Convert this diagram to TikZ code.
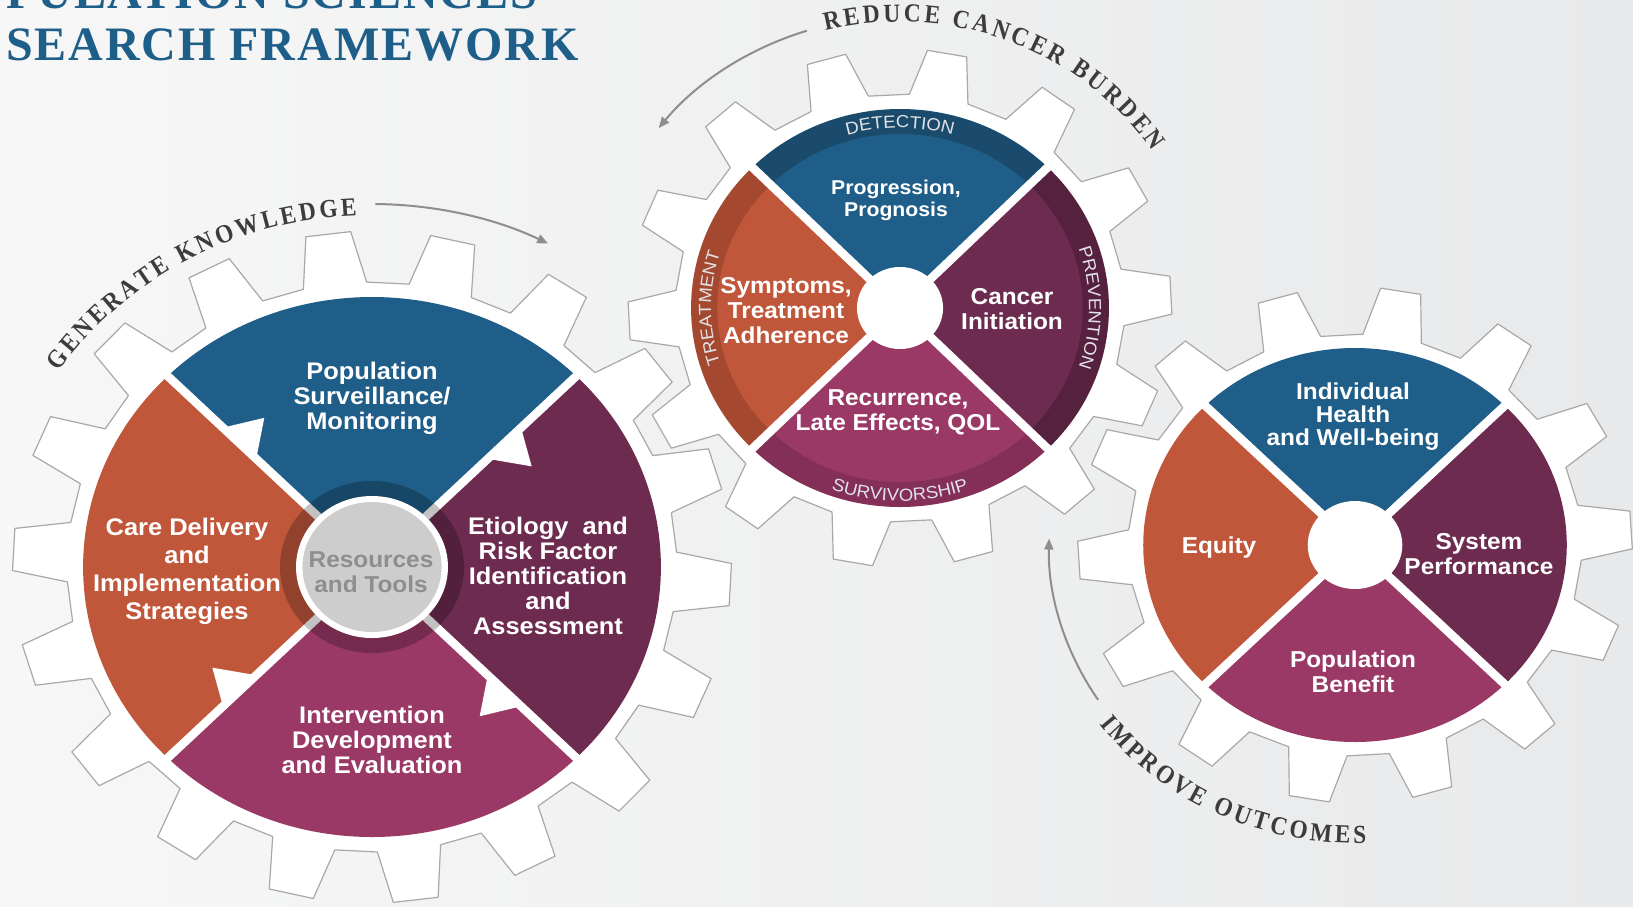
\documentclass[tikz,border=0pt]{standalone}
\usepackage{fontspec}
\setmainfont{Liberation Sans}[FakeStretch=1.06]
\newfontfamily\arcfont{Liberation Serif}[FakeStretch=0.9]
\newfontfamily\titlefont{Liberation Serif}[LetterSpace=4]
\usepackage{xcolor}
\usetikzlibrary{arrows.meta}
\usetikzlibrary{decorations.text}

\definecolor{segblue}{HTML}{1F5E88}
\definecolor{segorange}{HTML}{C0573A}
\definecolor{segpurple}{HTML}{6D2B50}
\definecolor{segmagenta}{HTML}{9B3966}
\definecolor{bandblue}{HTML}{1A4B6C}
\definecolor{bandorange}{HTML}{A44930}
\definecolor{bandpurple}{HTML}{55213E}
\definecolor{bandmagenta}{HTML}{832F58}
\definecolor{bandtext}{HTML}{E2E2E6}
\definecolor{gearline}{HTML}{A8A8A8}
\definecolor{titleblue}{HTML}{1E5F8A}
\definecolor{arcgrey}{HTML}{8E8E8E}
\definecolor{arctext}{HTML}{3C3C3C}
\definecolor{resgrey}{HTML}{CDCDCD}
\definecolor{restext}{HTML}{8E8E8E}
\definecolor{bgleft}{HTML}{F7F7F7}
\definecolor{bgright}{HTML}{E8E9EA}

\newcommand\bandfont{\fontsize{17.5}{17.5}\selectfont}
\newcommand\capsfont{\arcfont\bfseries\fontsize{26}{26}\selectfont}

\begin{document}
\begin{tikzpicture}[x=1pt,y=1pt]
\tikzstyle{gear}=[fill=white,draw=gearline,line width=1.2pt,line join=round];
\tikzstyle{sep}=[draw=white,line width=8.5pt];
\tikzstyle{lbl}=[text=white,align=center,inner sep=0pt,font=\bfseries\fontsize{24}{25}\selectfont];
\tikzstyle{flow}=[draw=arcgrey,line width=2pt,-{Triangle[length=11pt,width=9pt]}];
\useasboundingbox (0,0) rectangle (1633,-906);
\clip (0,0) rectangle (1633,-906);
\shade[left color=bgleft,right color=bgright] (0,0) rectangle (1633,-906);

% gear bodies
\begin{scope}[shift={(372,-567)},xscale=1.07]
\draw[gear] (91:285) \foreach \t in {0,...,17} { -- ({97+20*\t-6}:285) -- ({97+20*\t-3.6}:336) -- ({97+20*\t+3.6}:336) -- ({97+20*\t+6}:285) } -- cycle;
\end{scope}
\begin{scope}[shift={(900,-308)},xscale=1.05]
\draw[gear] (72.4:214) \foreach \t in {0,...,13} { -- ({80+25.714*\t-7.6}:214) -- ({80+25.714*\t-4.2}:259) -- ({80+25.714*\t+4.2}:259) -- ({80+25.714*\t+7.6}:214) } -- cycle;
\end{scope}
\begin{scope}[shift={(1355,-545)},xscale=1.075]
\draw[gear] (73:211) \foreach \t in {0,...,13} { -- ({80.5+25.714*\t-7.5}:211) -- ({80.5+25.714*\t-4.2}:258) -- ({80.5+25.714*\t+4.2}:258) -- ({80.5+25.714*\t+7.5}:211) } -- cycle;
\end{scope}

% gear 1: research cycle
\begin{scope}[shift={(372,-567)},xscale=1.07]
\foreach \a/\c in {45/segblue,135/segorange,225/segmagenta,315/segpurple}
  \fill[\c] (0,0) -- (\a:270) arc[start angle=\a,delta angle=90,radius=270] -- cycle;
\foreach \a in {45,135,225,315} {
  \draw[sep] (0,0) -- (\a:281);
  \fill[white] (\a:153) -- (\a:197) -- ({\a-11}:180) -- cycle;
}
\fill[black,opacity=0.24] (0,0) circle (86);
\fill[white] (0,0) circle (71);
\fill[resgrey] (0,0) circle (65);
\end{scope}

% gear 2: cancer continuum
\begin{scope}[shift={(900,-308)},xscale=1.05]
\foreach \a/\c/\d in {45/segblue/bandblue,135/segorange/bandorange,225/segmagenta/bandmagenta,315/segpurple/bandpurple} {
  \fill[\d] (0,0) -- (\a:199) arc[start angle=\a,delta angle=90,radius=199] -- cycle;
  \fill[\c] (0,0) -- (\a:174) arc[start angle=\a,delta angle=90,radius=174] -- cycle;
}
\foreach \a in {45,135,225,315}
  \draw[sep] (0,0) -- (\a:211);
\fill[white] (0,0) circle (41);
\end{scope}

% gear 3: outcomes
\begin{scope}[shift={(1355,-545)},xscale=1.075]
\foreach \a/\c in {45/segblue,135/segorange,225/segmagenta,315/segpurple}
  \fill[\c] (0,0) -- (\a:197) arc[start angle=\a,delta angle=90,radius=197] -- cycle;
\foreach \a in {45,135,225,315}
  \draw[sep] (0,0) -- (\a:208);
\fill[white] (0,0) circle (44);
\end{scope}

% band labels
\path[decorate,decoration={text along path,text={|\bandfont|DETECTION},text align=center,text color=bandtext}]
  ([shift={(900,-308)}]115:189 and 180) arc[start angle=115,end angle=65,x radius=189,y radius=180];
\path[decorate,decoration={text along path,text={|\bandfont|TREATMENT},text align=center,text color=bandtext}]
  ([shift={(900,-308)}]207:189 and 180) arc[start angle=207,end angle=153,x radius=189,y radius=180];
\path[decorate,decoration={text along path,text={|\bandfont|PREVENTION},text align=center,text color=bandtext}]
  ([shift={(900,-308)}]27:189 and 180) arc[start angle=27,end angle=-27,x radius=189,y radius=180];
\path[decorate,decoration={text along path,text={|\bandfont|SURVIVORSHIP},text align=center,text color=bandtext}]
  ([shift={(900,-308)}]238:202.6 and 193) arc[start angle=238,end angle=302,x radius=202.6,y radius=193];

% segment labels
\node[lbl] (pop) at (372,-398) {Population\\Surveillance/\\Monitoring};
\node[lbl,font=\bfseries\fontsize{24}{28}\selectfont] (care) at (187,-571) {Care Delivery\\and\\Implementation\\Strategies};
\node[lbl] (etio) at (548,-576) {Etiology~ and\\Risk Factor\\Identification\\and\\Assessment};
\node[lbl] (interv) at (372,-740) {Intervention\\Development\\and Evaluation};
\node[lbl,text=restext,font=\bfseries\fontsize{23}{25}\selectfont] (res) at (371,-572) {Resources\\and Tools};

\node[lbl,font=\bfseries\fontsize{20}{22}\selectfont] (progr) at (896,-200) {Progression,\\Prognosis};
\node[lbl,font=\bfseries\fontsize{23}{25}\selectfont] (sympt) at (786,-311) {Symptoms,\\Treatment\\Adherence};
\node[lbl,font=\bfseries\fontsize{23}{25}\selectfont] (canc) at (1012,-309) {Cancer\\Initiation};
\node[lbl,font=\bfseries\fontsize{23}{25}\selectfont] (recur) at (898,-412) {Recurrence,\\Late Effects, QOL};

\node[lbl,font=\bfseries\fontsize{23}{23}\selectfont] (indiv) at (1353,-417) {Individual\\Health\\and Well-being};
\node[lbl,font=\bfseries\fontsize{23}{25}\selectfont] (equity) at (1219,-548) {Equity};
\node[lbl,font=\bfseries\fontsize{23}{25}\selectfont] (syst) at (1479,-554) {System\\Performance};
\node[lbl,font=\bfseries\fontsize{23}{25}\selectfont] (popben) at (1353,-672) {Population\\Benefit};

% arc captions
\path[decorate,decoration={text along path,text={|\capsfont|GENERATE KNOWLEDGE},text align={fit to path},text color=arctext}]
  ([shift={(372,-567)}]146.3:376.6 and 352) arc[start angle=146.3,end angle=92.3,x radius=376.6,y radius=352];
\path[decorate,decoration={text along path,text={|\capsfont|REDUCE CANCER BURDEN},text align={fit to path},text color=arctext}]
  ([shift={(900,-310)}]104.3:302.4 and 288) arc[start angle=104.3,end angle=33.5,x radius=302.4,y radius=288];
\path[decorate,decoration={text along path,text={|\capsfont|IMPROVE OUTCOMES},text align={fit to path},text color=arctext}]
  ([shift={(1355,-545)}]217:320 and 298) arc[start angle=217,end angle=272,x radius=320,y radius=298];

% arrows
\coordinate (gk-tail) at ([shift={(372,-567)}]89.5:388 and 363);
\draw[flow] (gk-tail) arc[start angle=89.5,end angle=63,x radius=388,y radius=363];
\coordinate (rcb-tail) at ([shift={(900,-310)}]107.6:308 and 293);
\draw[flow] (rcb-tail) arc[start angle=107.6,end angle=141.6,x radius=308,y radius=293];
\coordinate (io-tail) at ([shift={(1355,-545)}]212.9:306 and 285);
\draw[flow] (io-tail) arc[start angle=212.9,end angle=178.7,x radius=306,y radius=285];

% title
\node[anchor=base west,inner sep=0pt,text=titleblue,font=\titlefont\bfseries\fontsize{48}{48}\selectfont] (title1) at (6,-8) {PULATION SCIENCES};
\node[anchor=base west,inner sep=0pt,text=titleblue,font=\titlefont\bfseries\fontsize{48}{48}\selectfont] (title2) at (6,-60) {SEARCH FRAMEWORK};
\end{tikzpicture}
\end{document}
